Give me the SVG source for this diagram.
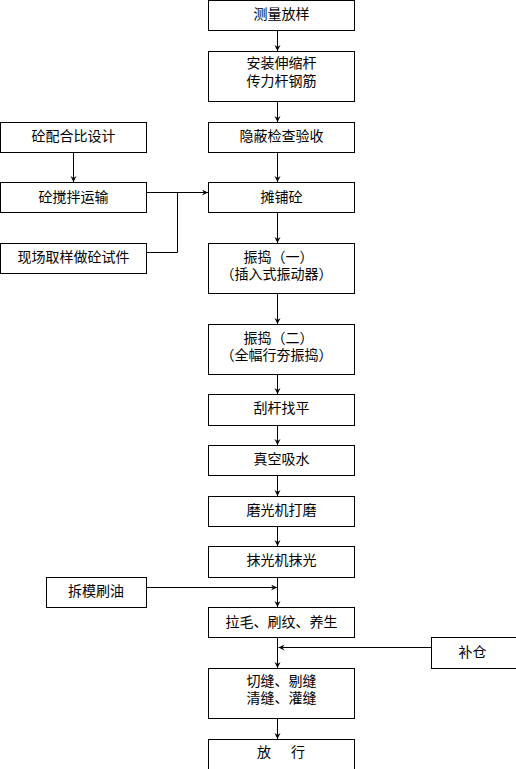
<svg xmlns="http://www.w3.org/2000/svg" width="516" height="769" viewBox="0 0 516 769">
<style>
rect{fill:#fff;stroke:#000;stroke-width:1}
text{font-family:"Noto Sans CJK SC","Noto Sans",sans-serif;font-size:14px;fill:#000;text-anchor:middle}
.c line,.c polyline{stroke:#000;stroke-width:1;fill:none}
</style>
<defs>
<marker id="a" markerUnits="userSpaceOnUse" markerWidth="7" markerHeight="7" refX="6" refY="3" orient="auto">
<path d="M0,0 L6,3 L0,6 L2,3 z" fill="#000"/>
</marker>
</defs>
<rect x="-1" y="-1" width="518" height="771" style="stroke:none"/>
<g class="c" id="connectors">
<line x1="277.5" y1="30.5" x2="277.5" y2="51" marker-end="url(#a)"/>
<line x1="277.5" y1="101.5" x2="277.5" y2="122" marker-end="url(#a)"/>
<line x1="277.5" y1="152.5" x2="277.5" y2="182" marker-end="url(#a)"/>
<line x1="277.5" y1="212.5" x2="277.5" y2="243" marker-end="url(#a)"/>
<line x1="277.5" y1="293.5" x2="277.5" y2="324" marker-end="url(#a)"/>
<line x1="277.5" y1="374.5" x2="277.5" y2="394" marker-end="url(#a)"/>
<line x1="277.5" y1="425.5" x2="277.5" y2="445" marker-end="url(#a)"/>
<line x1="277.5" y1="475.5" x2="277.5" y2="496" marker-end="url(#a)"/>
<line x1="277.5" y1="526.5" x2="277.5" y2="546" marker-end="url(#a)"/>
<line x1="277.5" y1="577.5" x2="277.5" y2="607" marker-end="url(#a)"/>
<line x1="277.5" y1="637.5" x2="277.5" y2="668" marker-end="url(#a)"/>
<line x1="277.5" y1="718.5" x2="277.5" y2="739" marker-end="url(#a)"/>
<line x1="73.5" y1="152.5" x2="73.5" y2="182" marker-end="url(#a)"/>
<line x1="146.5" y1="192.5" x2="208" y2="192.5" marker-end="url(#a)"/>
<polyline points="146.5,252.5 177.5,252.5 177.5,192.5"/>
<line x1="146.5" y1="587.5" x2="277" y2="587.5" marker-end="url(#a)"/>
<line x1="431.5" y1="647.5" x2="278.5" y2="647.5" marker-end="url(#a)"/>
</g>
<g id="n1"><rect x="208.5" y="0.5" width="146" height="30"/><text x="281.5" y="19">测量放样</text></g>
<g id="n2"><rect x="208.5" y="51.5" width="146" height="50"/><text x="281.5" y="68">安装伸缩杆</text><text x="281.5" y="85.5">传力杆钢筋</text></g>
<g id="n3"><rect x="208.5" y="122.5" width="146" height="30"/><text x="281.5" y="140.5">隐蔽检查验收</text></g>
<g id="n4"><rect x="208.5" y="182.5" width="146" height="30"/><text x="281.5" y="201.5">摊铺砼</text></g>
<g id="n5"><rect x="208.5" y="243.5" width="146" height="50"/><text x="278.5" y="262">振捣（一）</text><text x="276.5" y="278.5">（插入式振动器）</text></g>
<g id="n6"><rect x="208.5" y="324.5" width="146" height="50"/><text x="278.5" y="343">振捣（二）</text><text x="276.5" y="359.5">（全幅行夯振捣）</text></g>
<g id="n7"><rect x="208.5" y="394.5" width="146" height="31"/><text x="281.5" y="413">刮杆找平</text></g>
<g id="n8"><rect x="208.5" y="445.5" width="146" height="30"/><text x="281.5" y="463.5">真空吸水</text></g>
<g id="n9"><rect x="208.5" y="496.5" width="146" height="30"/><text x="281.5" y="514.5">磨光机打磨</text></g>
<g id="n10"><rect x="208.5" y="546.5" width="146" height="31"/><text x="281.5" y="564.5">抹光机抹光</text></g>
<g id="n11"><rect x="208.5" y="607.5" width="146" height="30"/><text x="281.5" y="626.5">拉毛、刷纹、养生</text></g>
<g id="n12"><rect x="208.5" y="668.5" width="146" height="50"/><text x="281.5" y="686">切缝、剔缝</text><text x="281.5" y="702.5">清缝、灌缝</text></g>
<g id="n13"><rect x="208.5" y="739.5" width="146" height="50"/><text x="264" y="757">放</text><text x="298" y="757">行</text></g>
<g id="l1"><rect x="0.5" y="122.5" width="146" height="30"/><text x="73.5" y="140.5">砼配合比设计</text></g>
<g id="l2"><rect x="0.5" y="182.5" width="146" height="30"/><text x="73.5" y="201.5">砼搅拌运输</text></g>
<g id="l3"><rect x="0.5" y="243.5" width="146" height="30"/><text x="73.5" y="262">现场取样做砼试件</text></g>
<g id="l4"><rect x="46.5" y="577.5" width="100" height="30"/><text x="96" y="595.5">拆模刷油</text></g>
<g id="r1"><rect x="431.5" y="637.5" width="100" height="31"/><text x="472.5" y="657">补仓</text></g>
</svg>
